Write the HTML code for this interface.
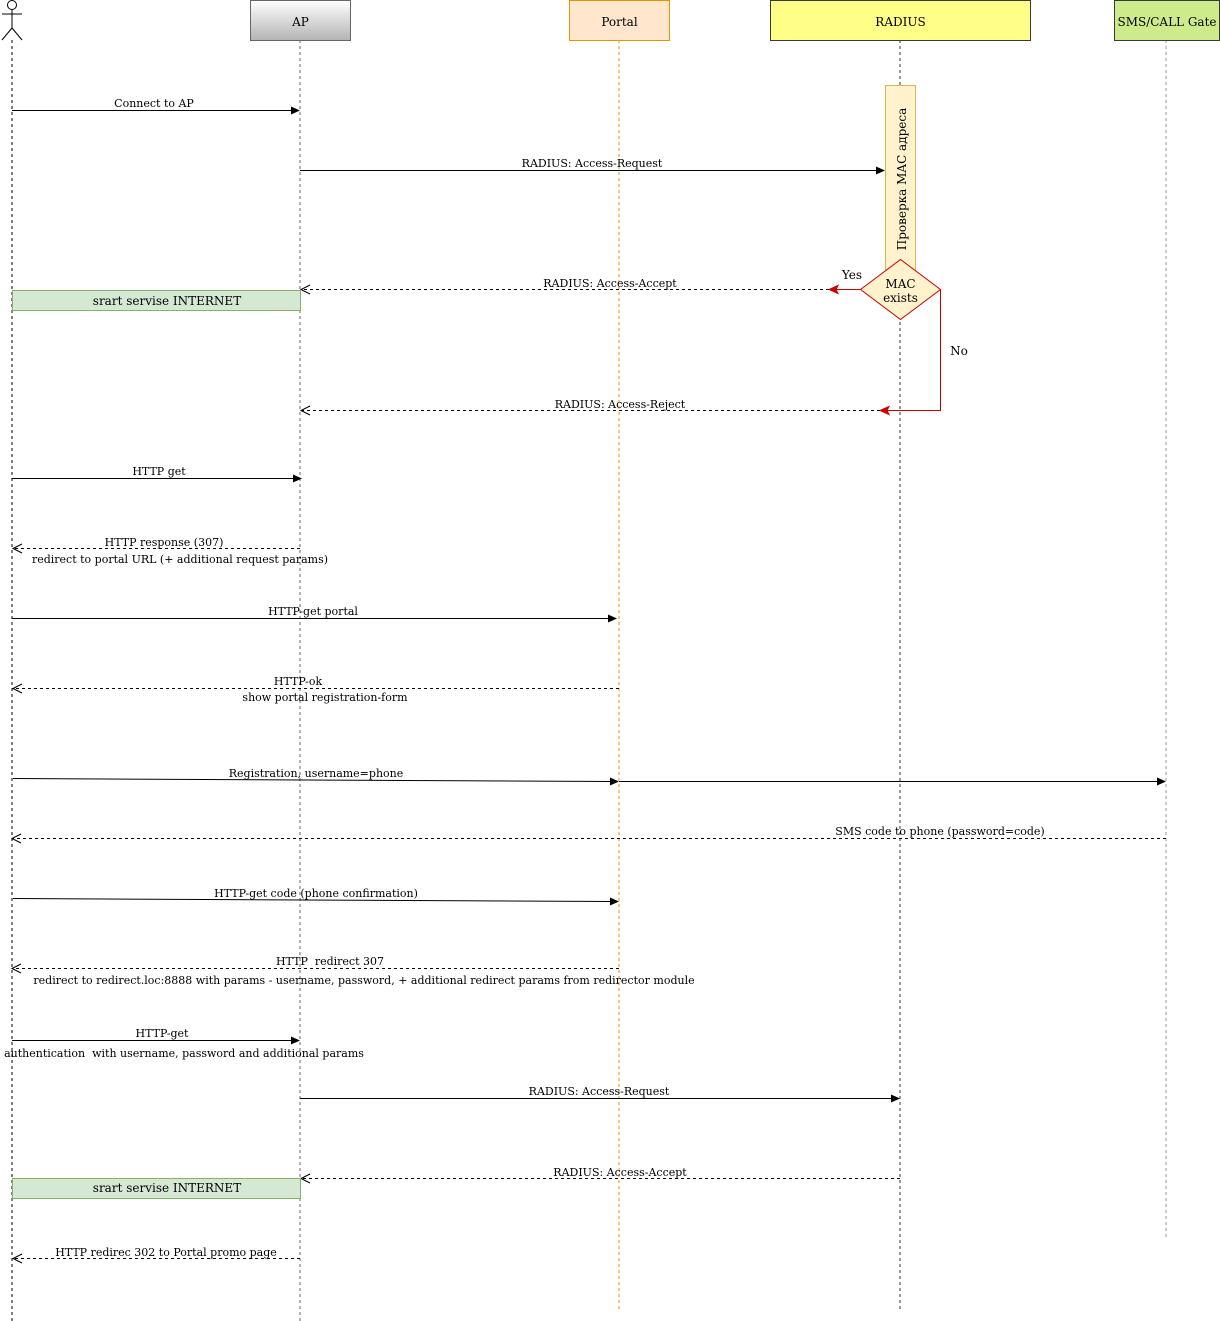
<!DOCTYPE html>
<html>
<head>
<meta charset="utf-8">
<style>
html,body{margin:0;padding:0;background:#fff;}
svg{display:block;}
text{font-family:"DejaVu Serif","Liberation Serif",serif;fill:#000;}
.m{font-size:11px;text-anchor:middle;}
.h{font-size:12px;text-anchor:middle;}
</style>
</head>
<body>
<svg width="1220" height="1321" viewBox="0 0 1220 1321" xmlns="http://www.w3.org/2000/svg">
<defs>
<linearGradient id="apg" x1="0" y1="0" x2="0" y2="1">
<stop offset="0" stop-color="#ffffff"/>
<stop offset="1" stop-color="#b3b3b3"/>
</linearGradient>
</defs>

<!-- lifelines -->
<line x1="12" y1="40" x2="12" y2="1321" stroke="#000" stroke-width="1" stroke-dasharray="3 3"/>
<line x1="300" y1="40" x2="300" y2="1321" stroke="#666" stroke-width="1" stroke-dasharray="3 3"/>
<line x1="619" y1="40" x2="619" y2="1310" stroke="#d79b00" stroke-width="1" stroke-dasharray="3 3"/>
<line x1="900" y1="40" x2="900" y2="1310" stroke="#333" stroke-width="1" stroke-dasharray="3 3"/>
<line x1="1166" y1="40" x2="1166" y2="1237" stroke="#999" stroke-width="1" stroke-dasharray="3 3"/>

<!-- actor -->
<circle cx="12" cy="5" r="4.5" fill="#fff" stroke="#000" stroke-width="1"/>
<line x1="12" y1="9.5" x2="12" y2="28" stroke="#000"/>
<line x1="2" y1="14" x2="22" y2="14" stroke="#000"/>
<line x1="12" y1="28" x2="2" y2="40" stroke="#000"/>
<line x1="12" y1="28" x2="22" y2="40" stroke="#000"/>

<!-- headers -->
<rect x="250.5" y="0.5" width="100" height="40" fill="url(#apg)" stroke="#666"/>
<text class="h" x="300.5" y="26">AP</text>
<rect x="569.5" y="0.5" width="100" height="40" fill="#ffe6cc" stroke="#d79b00"/>
<text class="h" x="619.5" y="26">Portal</text>
<rect x="770.5" y="0.5" width="260" height="40" fill="#ffff88" stroke="#36393d"/>
<text class="h" x="900.5" y="26">RADIUS</text>
<rect x="1114.5" y="0.5" width="105" height="40" fill="#cdeb8b" stroke="#36393d"/>
<text class="h" x="1167" y="26">SMS/CALL Gate</text>

<!-- activation bar -->
<rect x="885.5" y="85.5" width="30" height="190" fill="#fff2cc" stroke="#d6b656"/>
<text class="h" transform="translate(906,179) rotate(-90)" x="0" y="0">Проверка MAC адреса</text>

<!-- diamond -->
<polygon points="860.5,289.5 900.5,259.5 940.5,289.5 900.5,319.5" fill="#fff2cc" stroke="#cc0000"/>
<text class="h" x="900.5" y="288">MAC</text>
<text class="h" x="900.5" y="302">exists</text>

<!-- Yes -->
<line x1="860" y1="289.5" x2="836" y2="289.5" stroke="#cc0000"/>
<polygon points="829,289.5 838,285.5 836,289.5 838,293.5" fill="#cc0000" stroke="#cc0000"/>
<text class="h" x="852" y="279">Yes</text>
<!-- No -->
<polyline points="940.5,289.5 940.5,410.5 887,410.5" fill="none" stroke="#cc0000"/>
<polygon points="880,410.5 889,406.5 887,410.5 889,414.5" fill="#cc0000" stroke="#cc0000"/>
<text class="h" x="959" y="355">No</text>

<!-- 1 Connect to AP -->
<line x1="12" y1="110.5" x2="292" y2="110.5" stroke="#000"/>
<polygon points="300,110.5 291,106.5 291,114.5" fill="#000"/>
<text class="m" x="154" y="107">Connect to AP</text>

<!-- 2 RADIUS Access-Request -->
<line x1="300" y1="170.5" x2="877" y2="170.5" stroke="#000"/>
<polygon points="885,170.5 876,166.5 876,174.5" fill="#000"/>
<text class="m" x="592" y="167">RADIUS: Access-Request</text>

<!-- 3 Access-Accept -->
<line x1="829" y1="289.5" x2="301" y2="289.5" stroke="#000" stroke-dasharray="3 3"/>
<polyline points="310,285 301,289.5 310,294" fill="none" stroke="#000"/>
<text class="m" x="610" y="287">RADIUS: Access-Accept</text>

<!-- green box 1 -->
<rect x="12.5" y="290.5" width="288" height="20" fill="#d5e8d4" stroke="#82b366"/>
<text class="h" x="167" y="305">srart servise INTERNET</text>

<!-- 5 Access-Reject -->
<line x1="880" y1="410.5" x2="301" y2="410.5" stroke="#000" stroke-dasharray="3 3"/>
<polyline points="310,406 301,410.5 310,415" fill="none" stroke="#000"/>
<text class="m" x="620" y="408">RADIUS: Access-Reject</text>

<!-- 6 HTTP get -->
<line x1="12" y1="478.5" x2="294" y2="478.5" stroke="#000"/>
<polygon points="302,478.5 293,474.5 293,482.5" fill="#000"/>
<text class="m" x="159" y="475">HTTP get</text>

<!-- 7 HTTP response -->
<line x1="300" y1="548.5" x2="13" y2="548.5" stroke="#000" stroke-dasharray="3 3"/>
<polyline points="22,544 13,548.5 22,553" fill="none" stroke="#000"/>
<text class="m" x="164" y="546">HTTP response (307)</text>
<text class="m" x="180" y="563">redirect to portal URL (+ additional request params)</text>

<!-- 8 HTTP-get portal -->
<line x1="12" y1="618.5" x2="609" y2="618.5" stroke="#000"/>
<polygon points="617,618.5 608,614.5 608,622.5" fill="#000"/>
<text class="m" x="313" y="615">HTTP-get portal</text>

<!-- 9 HTTP-ok -->
<line x1="619" y1="688.5" x2="13" y2="688.5" stroke="#000" stroke-dasharray="3 3"/>
<polyline points="22,684 13,688.5 22,693" fill="none" stroke="#000"/>
<text class="m" x="298" y="685">HTTP-ok</text>
<text class="m" x="325" y="701">show portal registration-form</text>

<!-- 10 Registration -->
<line x1="13" y1="778.5" x2="611" y2="781.5" stroke="#000"/>
<polygon points="619,781.5 610,777.5 610,785.5" fill="#000"/>
<line x1="619" y1="781.5" x2="1158" y2="781.5" stroke="#000"/>
<polygon points="1166,781.5 1157,777.5 1157,785.5" fill="#000"/>
<text class="m" x="316" y="777">Registration, username=phone</text>

<!-- 11 SMS code -->
<line x1="1166" y1="838.5" x2="13" y2="838.5" stroke="#000" stroke-dasharray="3 3"/>
<polyline points="21,834 12,838.5 21,843" fill="none" stroke="#000"/>
<text class="m" x="940" y="835">SMS code to phone (password=code)</text>

<!-- 12 HTTP-get code -->
<line x1="13" y1="898.5" x2="611" y2="901.5" stroke="#000"/>
<polygon points="619,901.5 610,897.5 610,905.5" fill="#000"/>
<text class="m" x="316" y="897">HTTP-get code (phone confirmation)</text>

<!-- 13 HTTP redirect 307 -->
<line x1="619" y1="968.5" x2="13" y2="968.5" stroke="#000" stroke-dasharray="3 3"/>
<polyline points="21,964 12,968.5 21,973" fill="none" stroke="#000"/>
<text class="m" x="330" y="965" xml:space="preserve">HTTP  redirect 307</text>
<text class="m" x="364" y="984">redirect to redirect.loc:8888 with params - username, password, + additional redirect params from redirector module</text>

<!-- 14 HTTP-get -->
<line x1="12" y1="1040.5" x2="292" y2="1040.5" stroke="#000"/>
<polygon points="300,1040.5 291,1036.5 291,1044.5" fill="#000"/>
<text class="m" x="162" y="1037">HTTP-get</text>
<text class="m" x="184" y="1057" xml:space="preserve">authentication  with username, password and additional params</text>

<!-- 15 RADIUS Access-Request -->
<line x1="300" y1="1098.5" x2="892" y2="1098.5" stroke="#000"/>
<polygon points="900,1098.5 891,1094.5 891,1102.5" fill="#000"/>
<text class="m" x="599" y="1095">RADIUS: Access-Request</text>

<!-- 16 Access-Accept -->
<line x1="900" y1="1178.5" x2="301" y2="1178.5" stroke="#000" stroke-dasharray="3 3"/>
<polyline points="310,1174 301,1178.5 310,1183" fill="none" stroke="#000"/>
<text class="m" x="620" y="1176">RADIUS: Access-Accept</text>

<!-- green box 2 -->
<rect x="12.5" y="1178.5" width="288" height="20" fill="#d5e8d4" stroke="#82b366"/>
<text class="h" x="167" y="1192">srart servise INTERNET</text>

<!-- 18 HTTP redirec 302 -->
<line x1="300" y1="1258.5" x2="13" y2="1258.5" stroke="#000" stroke-dasharray="3 3"/>
<polyline points="22,1254 13,1258.5 22,1263" fill="none" stroke="#000"/>
<text class="m" x="166" y="1256">HTTP redirec 302 to Portal promo page</text>
</svg>
</body>
</html>
